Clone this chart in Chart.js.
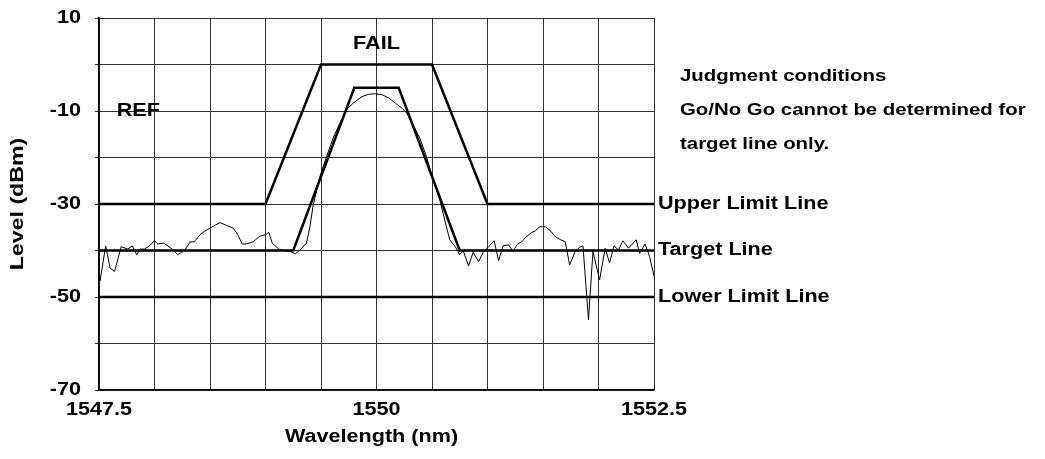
<!DOCTYPE html>
<html>
<head>
<meta charset="utf-8">
<script src="https://cdn.jsdelivr.net/npm/chart.js@4.4.1/dist/chart.umd.min.js"></script>
<style>
html,body{margin:0;padding:0;background:#fff;}
#wrap{width:1045px;height:459px;position:relative;}
</style>
</head>
<body>
<div id="wrap"><canvas id="c"></canvas></div>
<script>
// ---- data ----
const xTickLabels = [1547.5, 1550, 1552.5];
const yTickLabels = [10, -10, -30, -50, -70];

const upperX = [1547.5, 1549, 1549.5, 1550.5, 1551, 1552.5];
const upperY = [-30, -30, 0, 0, -30, -30];

const targetX = [1547.5, 1549.25, 1549.8, 1550.2, 1550.75, 1552.5];
const targetY = [-40, -40, -5, -5, -40, -40];

const lowerX = [1547.5, 1552.5];
const lowerY = [-50, -50];

const specX = [1547.50,1547.51,1547.56,1547.60,1547.64,1547.70,1547.76,1547.80,1547.84,1547.87,
  1547.91,1547.96,1548.00,1548.03,1548.08,1548.12,1548.17,1548.21,1548.27,1548.32,
  1548.36,1548.41,1548.45,1548.52,1548.59,1548.65,1548.71,1548.75,1548.79,1548.83,
  1548.89,1548.95,1549.00,1549.03,1549.06,1549.12,1549.16,1549.22,1549.27,1549.31,
  1549.37,1549.40,1549.43,1549.49,1549.55,1549.61,1549.67,1549.73,1549.79,1549.87,
  1549.93,1549.99,1550.05,1550.11,1550.17,1550.23,1550.27,1550.33,1550.39,1550.45,
  1550.51,1550.57,1550.60,1550.63,1550.66,1550.71,1550.75,1550.78,1550.83,1550.87,
  1550.92,1550.96,1551.01,1551.06,1551.10,1551.14,1551.19,1551.23,1551.27,1551.31,
  1551.35,1551.40,1551.43,1551.47,1551.52,1551.56,1551.61,1551.65,1551.70,1551.74,
  1551.79,1551.83,1551.86,1551.91,1551.95,1552.01,1552.06,1552.10,1552.14,1552.18,
  1552.22,1552.27,1552.34,1552.37,1552.42,1552.46,1552.50];
const specY = [-45,-46.5,-39.0,-43.8,-44.5,-39.2,-39.7,-39.0,-40.9,-39.7,
  -39.7,-38.9,-37.9,-38.6,-38.4,-39.0,-39.9,-40.9,-40.0,-38.2,
  -38.1,-36.6,-35.9,-34.9,-34.0,-34.6,-35.2,-36.6,-38.6,-38.6,
  -38.1,-36.9,-36.6,-36.1,-38.4,-39.7,-40.0,-40.2,-40.7,-39.9,
  -38.4,-34.9,-30.2,-24.1,-19.8,-15.8,-12.6,-9.7,-8.3,-6.9,
  -6.4,-6.3,-6.5,-7.2,-8.3,-9.4,-10.4,-13.0,-15.8,-19.8,
  -24.8,-29.1,-32.0,-34.9,-37.7,-39.2,-40.9,-40.0,-43.3,-40.4,
  -42.4,-40.4,-39.2,-37.9,-42.2,-39.0,-38.8,-40.2,-38.6,-38.1,
  -37.0,-36.1,-35.8,-34.9,-34.9,-35.6,-37.0,-37.6,-38.1,-43.1,
  -40.2,-39.3,-39.0,-54.9,-40.2,-46.3,-39.5,-42.7,-39.0,-39.9,
  -37.9,-39.5,-37.7,-40.6,-38.6,-41.3,-45.5];

const xTitle = 'Wavelength (nm)';
const yTitle = 'Level (dBm)';
const lineLabels = ["Upper Limit Line", "Target Line", "Lower Limit Line"];
const lineLabelLevels = [-30, -40, -50];
const noteLines = ["Judgment conditions", "Go/No Go cannot be determined for", "target line only."];

const zip = (xs, ys) => xs.map((x, i) => ({x: x, y: ys[i]}));
const FONT = "'Liberation Sans', Arial, sans-serif";

function stretchedText(ctx, text, x, y, align, size, stretch, angle) {
  ctx.save();
  ctx.translate(x, y);
  if (angle) ctx.rotate(angle);
  ctx.scale(stretch, 1);
  ctx.font = 'bold ' + size + 'px ' + FONT;
  ctx.textAlign = align;
  ctx.textBaseline = 'middle';
  ctx.fillStyle = '#000';
  ctx.fillText(text, 0, 0);
  ctx.restore();
}

const textPlugin = {
  id: 'texts',
  afterDraw(chart) {
    const {ctx, chartArea, scales} = chart;
    const xs = scales.x, ys = scales.y;
    const S = 1.2;
    // tick labels
    yTickLabels.forEach(v => stretchedText(ctx, String(v), 81, ys.getPixelForValue(v), 'right', 18, S));
    xTickLabels.forEach(v => stretchedText(ctx, String(v), xs.getPixelForValue(v), 410, 'center', 18, S));
    // axis titles
    stretchedText(ctx, xTitle, (chartArea.left + chartArea.right) / 2 - 5, 437, 'center', 18, S);
    stretchedText(ctx, yTitle, 18, (chartArea.top + chartArea.bottom) / 2, 'center', 19, 1.22, -Math.PI / 2);
    // annotations
    stretchedText(ctx, 'FAIL', xs.getPixelForValue(1550), ys.getPixelForValue(4.3), 'center', 18, S);
    stretchedText(ctx, 'REF', xs.getPixelForValue(1547.66), ys.getPixelForValue(-10), 'left', 18, S);
    lineLabels.forEach((t, i) => {
      stretchedText(ctx, t, chartArea.right + 4, ys.getPixelForValue(lineLabelLevels[i]), 'left', 18, S);
    });
    const noteY = [76, 110, 144];
    noteLines.forEach((t, i) => {
      stretchedText(ctx, t, chartArea.right + 26, noteY[i], 'left', 17, S);
    });
  }
};

new Chart(document.getElementById('c'), {
  type: 'line',
  data: {
    datasets: [
      {data: zip(specX, specY), borderColor: '#000', borderWidth: 1, pointRadius: 0, tension: 0, fill: false},
      {data: zip(upperX, upperY), borderColor: '#000', borderWidth: 2.5, pointRadius: 0, tension: 0, fill: false},
      {data: zip(targetX, targetY), borderColor: '#000', borderWidth: 2.5, pointRadius: 0, tension: 0, fill: false},
      {data: zip(lowerX, lowerY), borderColor: '#000', borderWidth: 2.5, pointRadius: 0, tension: 0, fill: false}
    ]
  },
  options: {
    responsive: true,
    maintainAspectRatio: false,
    animation: false,
    layout: {padding: {left: 0, right: 391, top: 18, bottom: 0}},
    plugins: {legend: {display: false}, tooltip: {enabled: false}},
    scales: {
      x: {
        type: 'linear', min: 1547.5, max: 1552.5,
        afterFit(s) { s.height = 69; },
        border: {color: '#000', width: 1.5},
        grid: {color: '#333', lineWidth: 1, drawTicks: false},
        ticks: {stepSize: 0.5, autoSkip: false, maxRotation: 0, callback: () => ''}
      },
      y: {
        type: 'linear', min: -70, max: 10,
        afterFit(s) { s.width = 99; },
        border: {color: '#000', width: 1.5},
        grid: {color: '#333', lineWidth: 1, tickLength: 4},
        ticks: {stepSize: 10, autoSkip: false, callback: () => ''}
      }
    }
  },
  plugins: [textPlugin]
});
</script>
</body>
</html>
